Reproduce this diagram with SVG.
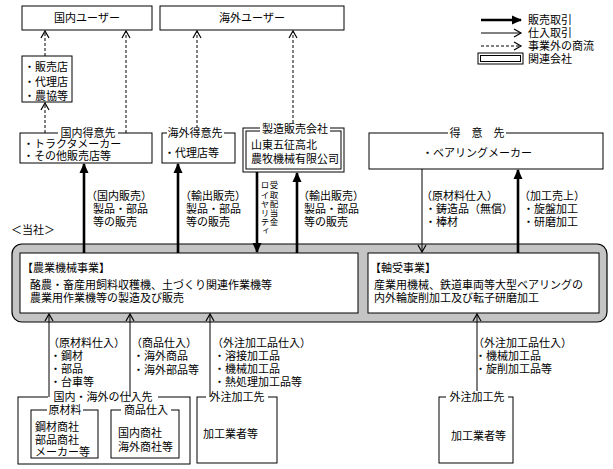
<svg xmlns="http://www.w3.org/2000/svg" width="613" height="469" viewBox="0 0 613 469">
<defs>
<marker id="fh" markerUnits="userSpaceOnUse" markerWidth="10" markerHeight="10" refX="9" refY="5" orient="auto"><path d="M0,0.5 L10,5 L0,9.5 z" fill="#000"/></marker>
<marker id="oh" markerUnits="userSpaceOnUse" markerWidth="10" markerHeight="10" refX="8" refY="5" orient="auto"><path d="M1,1 L8,5 L1,9" fill="none" stroke="#000" stroke-width="1.2"/></marker>
</defs>
<style>
text{font-family:"Noto Sans CJK JP","Noto Sans",sans-serif;font-size:11px;fill:#000}
.c{text-anchor:middle}
.box{fill:#fff;stroke:#000;stroke-width:1}
.tbg{fill:#fff}
.thick{stroke:#000;stroke-width:2.6;fill:none;marker-end:url(#fh)}
.thin{stroke:#000;stroke-width:1;fill:none;marker-end:url(#oh)}
.dash{stroke:#000;stroke-width:1;fill:none;stroke-dasharray:3,2;marker-end:url(#oh)}
.v{font-size:8.5px;writing-mode:vertical-rl;letter-spacing:0.6px}
</style>
<rect width="613" height="469" fill="#fff"/>

<g id="legend">
<line x1="481" y1="20" x2="521" y2="20" class="thick"/>
<text x="528" y="24">販売取引</text>
<line x1="481" y1="33" x2="521" y2="33" class="thin"/>
<text x="528" y="37">仕入取引</text>
<line x1="481" y1="46" x2="521" y2="46" class="dash"/>
<text x="528" y="50">事業外の商流</text>
<rect x="478" y="53" width="45" height="11" fill="#fff" stroke="#000" stroke-width="1"/>
<rect x="480.5" y="55.5" width="40" height="6" fill="none" stroke="#000" stroke-width="1"/>
<text x="528" y="63">関連会社</text>
</g>

<g id="domestic-users">
<rect class="box" x="22" y="6" width="130" height="24"/>
<text class="c" x="87" y="22">国内ユーザー</text>
</g>
<g id="overseas-users">
<rect class="box" x="160" y="6" width="184" height="24"/>
<text class="c" x="252" y="22">海外ユーザー</text>
</g>
<g id="dealers">
<rect class="box" x="22" y="56" width="50" height="46"/>
<text x="24" y="71">・販売店</text>
<text x="24" y="86">・代理店</text>
<text x="24" y="100">・農協等</text>
</g>

<g id="domestic-customers">
<rect class="box" x="20" y="133" width="132" height="30"/>
<rect class="tbg" x="58" y="127" width="60" height="12"/>
<text class="c" x="88" y="137">国内得意先</text>
<text x="23" y="148">・トラクタメーカー</text>
<text x="23" y="160">・その他販売店等</text>
</g>
<g id="overseas-customers">
<rect class="box" x="162" y="133" width="73" height="30"/>
<rect class="tbg" x="167" y="127" width="57" height="12"/>
<text class="c" x="195" y="137">海外得意先</text>
<text x="164" y="157">・代理店等</text>
</g>
<g id="affiliate">
<rect x="243" y="128" width="101" height="44" fill="#fff" stroke="#000" stroke-width="1"/>
<rect x="246" y="131" width="95" height="38" fill="none" stroke="#000" stroke-width="1"/>
<rect class="tbg" x="260" y="123" width="70" height="12"/>
<text class="c" x="295" y="133">製造販売会社</text>
<text x="251" y="149">山東五征高北</text>
<text x="251" y="163">農牧機械有限公司</text>
</g>
<g id="bearing-customers">
<rect class="box" x="369" y="133" width="234" height="36"/>
<rect class="tbg" x="448" y="127" width="58" height="12"/>
<text class="c" x="477" y="137">得　意　先</text>
<text class="c" x="477" y="157">・ベアリングメーカー</text>
</g>

<g id="company">
<rect x="12" y="244" width="595" height="78" rx="10" fill="#c4c4c4" stroke="#000" stroke-width="1.2"/>
<text x="11" y="234">＜当社＞</text>
</g>
<g id="agri">
<rect class="box" x="20" y="253" width="338" height="60"/>
<text x="22" y="272">【農業機械事業】</text>
<text x="30" y="289">酪農・畜産用飼料収穫機、土づくり関連作業機等</text>
<text x="30" y="302">農業用作業機等の製造及び販売</text>
</g>
<g id="bearing">
<rect class="box" x="368" y="253" width="231" height="60"/>
<text x="370" y="272">【軸受事業】</text>
<text x="374" y="289">産業用機械、鉄道車両等大型ベアリングの</text>
<text x="374" y="302">内外輪旋削加工及び転子研磨加工</text>
</g>

<g id="suppliers">
<rect class="box" x="18" y="397" width="172" height="67"/>
<rect class="tbg" x="48" y="391" width="110" height="12"/>
<text class="c" x="103" y="401">国内・海外の仕入先</text>
<rect class="box" x="31" y="410" width="67" height="48"/>
<rect class="tbg" x="47" y="404" width="36" height="12"/>
<text class="c" x="65" y="414">原材料</text>
<text x="35" y="431">鋼材商社</text>
<text x="35" y="444">部品商社</text>
<text x="35" y="456">メーカー等</text>
<rect class="box" x="111" y="410" width="68" height="48"/>
<rect class="tbg" x="121" y="404" width="50" height="12"/>
<text class="c" x="146" y="414">商品仕入</text>
<text x="118" y="437">国内商社</text>
<text x="118" y="451">海外商社等</text>
</g>
<g id="subcontractor1">
<rect class="box" x="197" y="397" width="80" height="66"/>
<rect class="tbg" x="206" y="391" width="62" height="12"/>
<text class="c" x="237" y="401">外注加工先</text>
<text x="203" y="438">加工業者等</text>
</g>
<g id="subcontractor2">
<rect class="box" x="439" y="397" width="74" height="66"/>
<rect class="tbg" x="446" y="391" width="62" height="12"/>
<text class="c" x="477" y="401">外注加工先</text>
<text x="451" y="440">加工業者等</text>
</g>

<g id="connectors">
<line x1="45" y1="56" x2="45" y2="31" class="dash"/>
<line x1="45" y1="133" x2="45" y2="103" class="dash"/>
<line x1="126" y1="133" x2="126" y2="31" class="dash"/>
<line x1="197" y1="133" x2="197" y2="31" class="dash"/>
<line x1="293" y1="123" x2="293" y2="31" class="dash"/>
<line x1="84" y1="253" x2="84" y2="164" class="thick"/>
<line x1="178" y1="253" x2="178" y2="164" class="thick"/>
<line x1="257" y1="172" x2="257" y2="252" class="thick"/>
<line x1="297" y1="253" x2="297" y2="173" class="thick"/>
<line x1="422" y1="169" x2="422" y2="252" class="thin"/>
<line x1="518" y1="253" x2="518" y2="170" class="thick"/>
<line x1="49" y1="397" x2="49" y2="314" class="thin"/>
<line x1="130" y1="397" x2="130" y2="314" class="thin"/>
<line x1="210" y1="397" x2="210" y2="314" class="thin"/>
<line x1="477" y1="391" x2="477" y2="314" class="thin"/>
</g>

<g id="labels">
<text x="86" y="200">（国内販売）</text>
<text x="93" y="213">製品・部品</text>
<text x="93" y="226">等の販売</text>
<text x="180" y="200">（輸出販売）</text>
<text x="186" y="213">製品・部品</text>
<text x="186" y="226">等の販売</text>
<text class="v" x="274" y="181">受取配当金</text>
<text class="v" x="265" y="181">ロイヤリティ</text>
<text x="298" y="200">（輸出販売）</text>
<text x="304" y="213">製品・部品</text>
<text x="304" y="226">等の販売</text>
<text x="421" y="200">（原材料仕入）</text>
<text x="425" y="213">・鋳造品（無償）</text>
<text x="425" y="226">・棒材</text>
<text x="519" y="200">（加工売上）</text>
<text x="523" y="213">・旋盤加工</text>
<text x="523" y="226">・研磨加工</text>
<text x="48" y="347">（原材料仕入）</text>
<text x="50" y="360">・鋼材</text>
<text x="50" y="373">・部品</text>
<text x="50" y="386">・台車等</text>
<text x="131" y="347">（商品仕入）</text>
<text x="133" y="360">・海外商品</text>
<text x="133" y="374">・海外部品等</text>
<text x="212" y="347">（外注加工品仕入）</text>
<text x="214" y="360">・溶接加工品</text>
<text x="214" y="373">・機械加工品</text>
<text x="214" y="386">・熱処理加工品等</text>
<text x="473" y="347">（外注加工品仕入）</text>
<text x="475" y="360">・機械加工品</text>
<text x="475" y="373">・旋削加工品等</text>
</g>
</svg>
